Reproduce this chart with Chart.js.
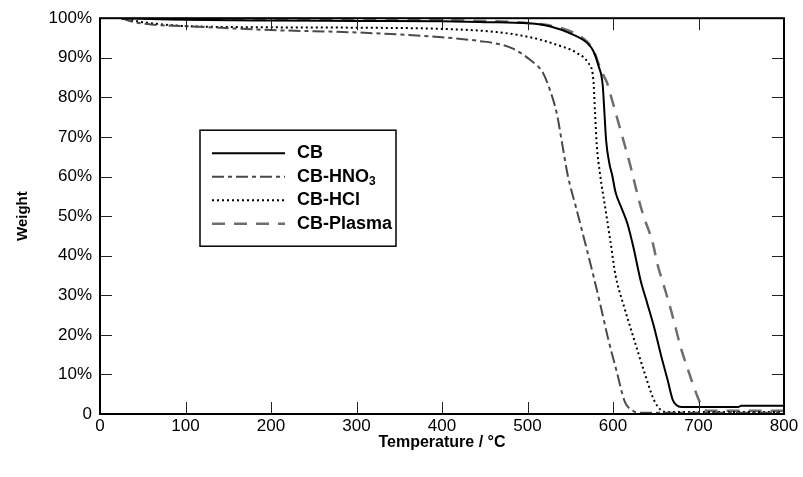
<!DOCTYPE html>
<html>
<head>
<meta charset="utf-8">
<script src="https://cdn.jsdelivr.net/npm/chart.js@4"></script>
<style>
  html, body { margin: 0; padding: 0; background: #fff; }
  #wrap { width: 803px; height: 477px; }
</style>
</head>
<body>
<div id="wrap"><canvas id="tgaChart" width="803" height="477"></canvas></div>
<script>
// TGA curves (temperature in °C, weight in %)
const cbTemp = [25, 60, 100, 200, 300, 400, 450, 501, 527, 554, 570, 577, 583, 588, 590, 592, 596, 599, 603, 610, 617, 624, 632, 640, 648, 656, 664, 670, 674, 680, 747, 750, 800];
const cbWeight = [100, 99.8, 99.6, 99.4, 99.3, 99.2, 99.0, 98.7, 97.9, 95.8, 93.7, 91.7, 88, 83, 76, 69, 63, 60.4, 56, 52, 48, 42, 34, 28, 22, 15, 8.5, 3.5, 2.3, 1.8, 1.8, 2.1, 2.1];

const hno3Temp = [25, 40, 60, 100, 200, 300, 400, 445, 470, 483, 503, 518, 526, 534, 540, 547, 557, 567, 577, 585, 594, 604, 614, 622, 630, 800];
const hno3Weight = [100, 99.0, 98.4, 98.0, 97.0, 96.4, 95.2, 94.2, 93.3, 92.3, 89.5, 86.2, 82, 76.2, 69, 60.4, 52, 43.6, 35, 27.8, 19.3, 11, 3, 1, 0.3, 0.3];

const hclTemp = [25, 50, 80, 100, 200, 300, 400, 464, 507, 534, 558, 571, 577, 579, 581, 585, 591, 597, 603, 612, 624, 636, 648, 656, 662, 800];
const hclWeight = [100, 99.0, 98.3, 98.0, 97.7, 97.6, 97.3, 96.5, 95, 93.3, 91.2, 88.7, 84.5, 76, 68, 60.4, 52, 43.6, 35, 27.8, 19.3, 11, 3.5, 1, 0.5, 0.5];

const plasmaTemp = [25, 100, 200, 300, 400, 450, 500, 530, 555, 570, 578, 584, 589, 593, 598, 603, 611, 620, 628, 635, 646, 653, 659, 669, 679, 688, 699, 705, 712, 800];
const plasmaWeight = [100, 99.8, 99.7, 99.6, 99.5, 99.3, 98.8, 98, 96.2, 94, 91.5, 88, 85.5, 83.7, 80, 76.2, 70, 63, 56, 50.5, 43.6, 37, 32.8, 25.3, 17, 11, 4.3, 1.5, 0.8, 0.8];

const seriesNames = ['CB', 'CB-HNO3', 'CB-HCl', 'CB-Plasma'];
const xTicks = [0, 100, 200, 300, 400, 500, 600, 700, 800];
const yTicks = [0, 10, 20, 30, 40, 50, 60, 70, 80, 90, 100];

const FONT = '"Liberation Sans", Arial, sans-serif';

function toPoints(xs, ys) {
    return xs.map((x, i) => ({ x: x, y: ys[i] }));
}

// ticks pointing into the plot on all four sides, plus the frame
const frameTicks = {
    id: 'frameTicks',
    afterDatasetsDraw(chart) {
        const ctx = chart.ctx;
        const a = chart.chartArea;
        const xs = chart.scales.x, ys = chart.scales.y;
        const len = 12;
        ctx.save();
        ctx.strokeStyle = '#222';
        ctx.lineWidth = 1;
        ctx.beginPath();
        xTicks.slice(1, -1).forEach(v => {
            const px = Math.round(xs.getPixelForValue(v)) + 0.5;
            ctx.moveTo(px, a.bottom); ctx.lineTo(px, a.bottom - len);
            ctx.moveTo(px, a.top); ctx.lineTo(px, a.top + len);
        });
        yTicks.slice(1, -1).forEach(v => {
            const py = Math.round(ys.getPixelForValue(v)) + 0.5;
            ctx.moveTo(a.left, py); ctx.lineTo(a.left + len, py);
            ctx.moveTo(a.right, py); ctx.lineTo(a.right - len, py);
        });
        ctx.stroke();
        ctx.strokeStyle = '#000';
        ctx.lineWidth = 2;
        ctx.strokeRect(a.left, a.top, a.right - a.left, a.bottom - a.top);
        ctx.restore();
    }
};

// boxed legend inside the plot, with a subscript 3 for HNO3
const boxLegend = {
    id: 'boxLegend',
    afterDraw(chart) {
        const ctx = chart.ctx;
        const a = chart.chartArea;
        const bx = a.left + 100, by = a.top + 112, bw = 196, bh = 116;
        ctx.save();
        ctx.fillStyle = '#fff';
        ctx.fillRect(bx, by, bw, bh);
        ctx.strokeStyle = '#000';
        ctx.lineWidth = 1.5;
        ctx.strokeRect(bx, by, bw, bh);
        chart.data.datasets.forEach((ds, i) => {
            const ly = by + 23 + i * 23.5;
            ctx.strokeStyle = ds.borderColor;
            ctx.lineWidth = ds.borderWidth;
            ctx.setLineDash(ds.borderDash || []);
            ctx.beginPath();
            ctx.moveTo(bx + 12, ly);
            ctx.lineTo(bx + 85, ly);
            ctx.stroke();
            ctx.setLineDash([]);
            ctx.fillStyle = '#000';
            ctx.font = 'bold 18px ' + FONT;
            ctx.textBaseline = 'middle';
            let label = ds.label;
            let tx = bx + 97;
            if (label === 'CB-HNO3') {
                ctx.fillText('CB-HNO', tx, ly);
                tx += ctx.measureText('CB-HNO').width;
                ctx.font = 'bold 12px ' + FONT;
                ctx.fillText('3', tx, ly + 5);
            } else {
                ctx.fillText(label, tx, ly);
            }
        });
        ctx.restore();
    }
};

const ctx = document.getElementById('tgaChart').getContext('2d');
const chart = new Chart(ctx, {
    type: 'line',
    data: {
        datasets: [{
            label: seriesNames[0],
            data: toPoints(cbTemp, cbWeight),
            borderColor: '#000000',
            borderWidth: 2,
        }, {
            label: seriesNames[1],
            data: toPoints(hno3Temp, hno3Weight),
            borderColor: '#4a4a4a',
            borderWidth: 2,
            borderDash: [12, 4, 4, 4],
        }, {
            label: seriesNames[2],
            data: toPoints(hclTemp, hclWeight),
            borderColor: '#000000',
            borderWidth: 2,
            borderDash: [2, 3],
        }, {
            label: seriesNames[3],
            data: toPoints(plasmaTemp, plasmaWeight),
            borderColor: '#6e6e6e',
            borderWidth: 2.5,
            borderDash: [13, 9],
        }]
    },
    options: {
        responsive: false,
        animation: false,
        devicePixelRatio: 1,
        layout: { padding: { top: 15, right: 19, left: 0, bottom: 0 } },
        elements: {
            point: { radius: 0 },
            line: { cubicInterpolationMode: 'monotone', fill: false }
        },
        plugins: {
            legend: { display: false },
            tooltip: { enabled: false }
        },
        scales: {
            x: {
                type: 'linear',
                min: 0,
                max: 800,
                afterFit(scale) { scale.height = 63; },
                afterBuildTicks(scale) { scale.ticks = xTicks.map(v => ({ value: v })); },
                grid: { display: false, drawTicks: false },
                border: { display: false },
                ticks: {
                    color: '#000',
                    padding: 2,
                    font: { family: FONT, size: 17 }
                },
                title: {
                    display: true,
                    text: 'Temperature / °C',
                    color: '#000',
                    padding: { top: 0, bottom: 25 },
                    font: { family: FONT, size: 16, weight: 'bold' }
                }
            },
            y: {
                min: 0,
                max: 100,
                afterFit(scale) { scale.width = 100; },
                afterBuildTicks(scale) { scale.ticks = yTicks.map(v => ({ value: v })); },
                grid: { display: false, drawTicks: false },
                border: { display: false },
                ticks: {
                    color: '#000',
                    padding: 8,
                    font: { family: FONT, size: 17 },
                    callback: v => (v === 0 ? '0' : v + '%')
                },
                title: {
                    display: true,
                    text: 'Weight',
                    color: '#000',
                    padding: { top: 14, bottom: 14 },
                    font: { family: FONT, size: 15, weight: 'bold' }
                }
            }
        }
    },
    plugins: [frameTicks, boxLegend]
});
</script>
</body>
</html>
